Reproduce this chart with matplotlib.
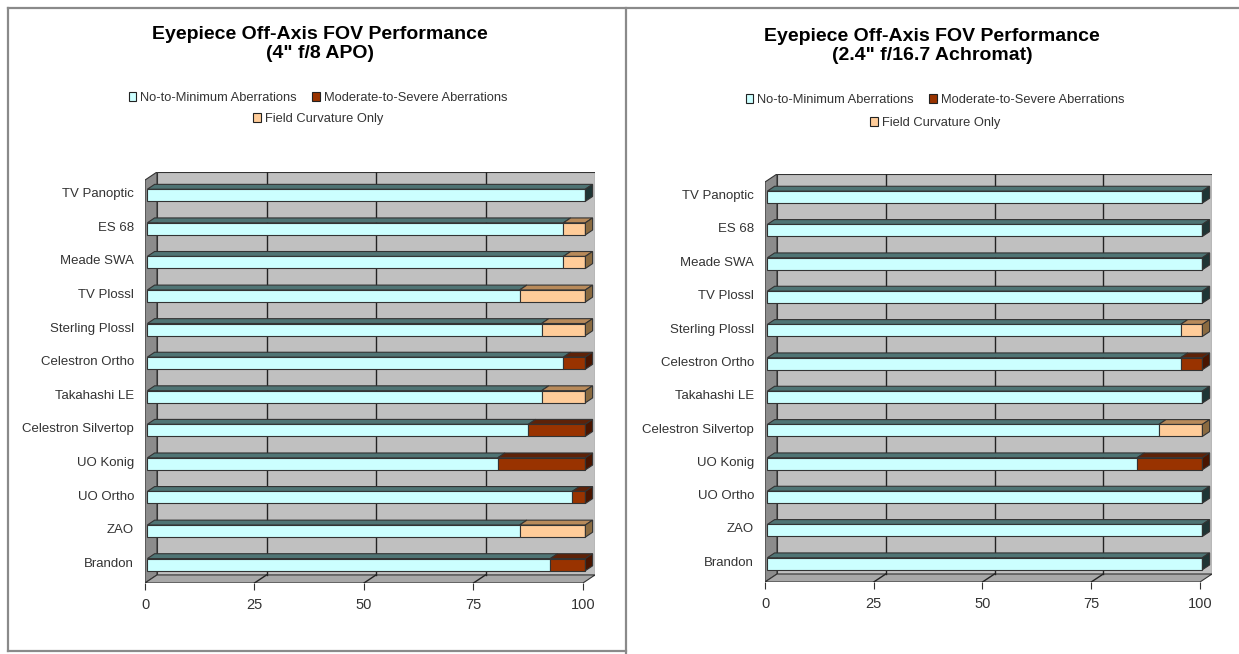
import matplotlib.pyplot as plt
from matplotlib.patches import Polygon, Rectangle
from matplotlib.lines import Line2D

plt.rcParams['font.family'] = ['Liberation Sans', 'DejaVu Sans']

# data (percent of field of view)
eyepieces = ['Brandon', 'ZAO', 'UO Ortho', 'UO Konig', 'Celestron Silvertop',
             'Takahashi LE', 'Celestron Ortho', 'Sterling Plossl', 'TV Plossl',
             'Meade SWA', 'ES 68', 'TV Panoptic']
series_names = ['No-to-Minimum Aberrations', 'Moderate-to-Severe Aberrations',
                'Field Curvature Only']

apo_none = [92, 85, 97, 80, 87, 90, 95, 90, 85, 95, 95, 100]
apo_moderate = [8, 0, 3, 20, 13, 0, 5, 0, 0, 0, 0, 0]
apo_field = [0, 15, 0, 0, 0, 10, 0, 10, 15, 5, 5, 0]

ach_none = [100, 100, 100, 85, 90, 100, 95, 95, 100, 100, 100, 100]
ach_moderate = [0, 0, 0, 15, 0, 0, 5, 0, 0, 0, 0, 0]
ach_field = [0, 0, 0, 0, 10, 0, 0, 5, 0, 0, 0, 0]

colors = ['#ccffff', '#993300', '#ffcc99']
top_colors = ['#4f7474', '#5e2208', '#b88a5a']
side_colors = ['#1f3535', '#4a1500', '#8a6a40']

W, H = 1239, 654
fig = plt.figure(figsize=(W / 100, H / 100), dpi=100)


def px_axes(x0, x1, y_top, y_bot):
    return fig.add_axes([x0 / W, 1 - y_bot / H, (x1 - x0) / W, (y_bot - y_top) / H])


def draw_panel(ax, none, moderate, field, dx, dy):
    n = len(eyepieces)
    y0, y1 = -0.5, n - 0.5
    edge = '#333333'
    # walls
    ax.add_patch(Rectangle((dx, y0 + dy), 100, y1 - y0, fc='#c0c0c0', ec=edge, lw=0.8, zorder=0))
    ax.add_patch(Polygon([(0, y0), (dx, y0 + dy), (dx, y1 + dy), (0, y1)],
                         fc='#8c8c8c', ec=edge, lw=0.8, zorder=1))
    ax.add_patch(Polygon([(0, y0), (100, y0), (100 + dx, y0 + dy), (dx, y0 + dy)],
                         fc='#a8a8a8', ec=edge, lw=0.8, zorder=1))
    for g in [25, 50, 75]:
        ax.plot([g + dx, g + dx], [y0 + dy, y1 + dy], color='#222222', lw=1, zorder=1)
        ax.plot([g, g + dx], [y0, y0 + dy], color='#222222', lw=1, zorder=1)
    # bars
    f, b, h = 0.2, 0.6, 0.36
    for i in range(n):
        vals = [none[i], moderate[i], field[i]]
        left = 0
        last = max(k for k in range(3) if vals[k] > 0)
        for k in range(3):
            v = vals[k]
            if v <= 0:
                continue
            l, r = left, left + v
            yb = i - h / 2 + f * dy
            yt = i + h / 2 + f * dy
            ax.add_patch(Rectangle((l + f * dx, yb), v, h, fc=colors[k], ec=edge, lw=0.8, zorder=3))
            ax.add_patch(Polygon([(l + f * dx, yt), (r + f * dx, yt),
                                  (r + (f + b) * dx, yt + b * dy), (l + (f + b) * dx, yt + b * dy)],
                                 fc=top_colors[k], ec=edge, lw=0.8, zorder=3))
            if k == last:
                ax.add_patch(Polygon([(r + f * dx, yb), (r + (f + b) * dx, yb + b * dy),
                                      (r + (f + b) * dx, yt + b * dy), (r + f * dx, yt)],
                                     fc=side_colors[k], ec=edge, lw=0.8, zorder=3))
            left = r
    ax.set_xlim(0, 100 + dx)
    ax.set_ylim(y0, y1 + dy)
    for s in ax.spines.values():
        s.set_visible(False)
    ax.set_xticks([0, 25, 50, 75, 100])
    ax.set_xticklabels(['0', '25', '50', '75', '100'], fontsize=10.5, color='#333333')
    ax.tick_params(axis='x', length=5, color='#333333', pad=6)
    ax.set_yticks([i + 0.5 * dy for i in range(n)])
    ax.set_yticklabels(eyepieces, fontsize=9.5, color='#333333')
    ax.tick_params(axis='y', length=0, pad=8)


def legend_for(cx, y1, y2):
    hs = [Rectangle((0, 0), 1, 1, fc=colors[k], ec='#222222', lw=0.8) for k in range(3)]
    kw = dict(frameon=False, fontsize=9.3, handlelength=0.6, handleheight=0.6,
              handletextpad=0.3, columnspacing=1.2, loc='center', labelcolor='#333333')
    fig.legend(hs[:2], series_names[:2], ncol=2, bbox_to_anchor=(cx / W, 1 - y1 / H), **kw)
    fig.legend(hs[2:], series_names[2:], bbox_to_anchor=(cx / W, 1 - y2 / H), **kw)


ax1 = px_axes(145, 595, 172, 583)
draw_panel(ax1, apo_none, apo_moderate, apo_field, 2.74, 0.24)
ax2 = px_axes(765, 1212, 174, 582)
draw_panel(ax2, ach_none, ach_moderate, ach_field, 2.76, 0.24)

fig.text(320 / W, 1 - 44 / H, 'Eyepiece Off-Axis FOV Performance\n(4" f/8 APO)',
         ha='center', va='center', fontsize=14, fontweight='bold', linespacing=1.1)
fig.text(932 / W, 1 - 46 / H, 'Eyepiece Off-Axis FOV Performance\n(2.4" f/16.7 Achromat)',
         ha='center', va='center', fontsize=14, fontweight='bold', linespacing=1.1)
legend_for(318, 98, 119)
legend_for(935, 100, 123)

# panel frames
for xs, ys in [([8 / W, 1], [1 - 8 / H, 1 - 8 / H]),
               ([8 / W, 8 / W], [1 - 8 / H, 1 - 651 / H]),
               ([8 / W, 626 / W], [1 - 651 / H, 1 - 651 / H]),
               ([626 / W, 626 / W], [1 - 8 / H, 0])]:
    fig.add_artist(Line2D(xs, ys, color='#8a8a8a', lw=1.6))

fig.savefig('out.png', dpi=100)
